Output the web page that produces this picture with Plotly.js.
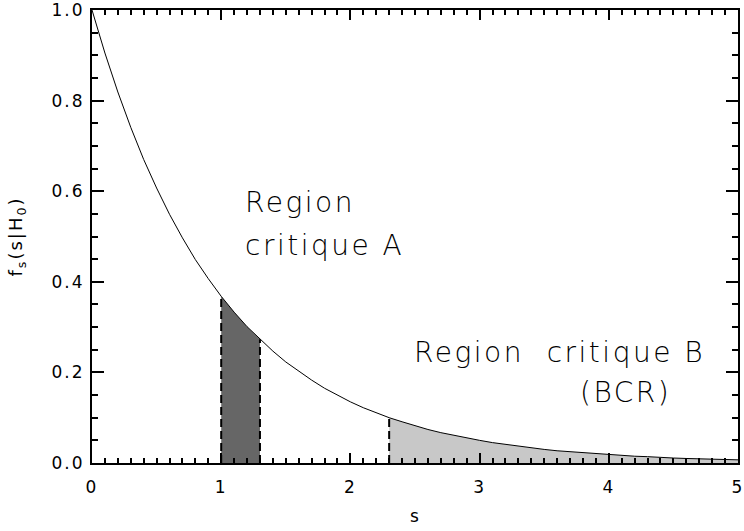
<!DOCTYPE html>
<html>
<head>
<meta charset="utf-8">
<script src="https://cdn.plot.ly/plotly-3.0.1.min.js"></script>
<style>
html,body{margin:0;padding:0;background:#fff;}
#chart{width:744px;height:531px;}
#chart .xtick text, #chart .ytick text {letter-spacing: 2px;}
#chart .annotation-text {letter-spacing: 2.5px;}
#chart .g-xtitle text {letter-spacing: 1px;}
#chart .g-ytitle text {letter-spacing: 2px;}
</style>
</head>
<body>
<div id="chart"></div>
<script>
const sValues = [0.0,0.1,0.2,0.3,0.4,0.5,0.6,0.7,0.8,0.9,
                 1.0,1.1,1.2,1.3,1.4,1.5,1.6,1.7,1.8,1.9,
                 2.0,2.1,2.2,2.3,2.4,2.5,2.6,2.7,2.8,2.9,
                 3.0,3.1,3.2,3.3,3.4,3.5,3.6,3.7,3.8,3.9,
                 4.0,4.1,4.2,4.3,4.4,4.5,4.6,4.7,4.8,4.9,5.0];
const fValues = [1.000,0.905,0.819,0.741,0.670,0.607,0.549,0.497,0.449,0.407,
                 0.368,0.333,0.301,0.273,0.247,0.223,0.202,0.183,0.165,0.150,
                 0.135,0.122,0.111,0.100,0.091,0.082,0.074,0.067,0.061,0.055,
                 0.050,0.045,0.041,0.037,0.033,0.030,0.027,0.025,0.022,0.020,
                 0.018,0.017,0.015,0.014,0.012,0.011,0.010,0.009,0.008,0.007,0.007];
const regionA = [1.0, 1.3];
const regionB = [2.3, 5.0];
const yTickVals = [0.0, 0.2, 0.4, 0.6, 0.8, 1.0];
const yTickText = ["0.0","0.2","0.4","0.6","0.8","1.0"];
const xTickVals = [0, 1, 2, 3, 4, 5];
const xTickText = ["0","1","2","3","4","5"];

function slice(range) {
  const xs = [], ys = [];
  sValues.forEach((s, i) => {
    if (s >= range[0] - 1e-9 && s <= range[1] + 1e-9) { xs.push(s); ys.push(fValues[i]); }
  });
  return {xs, ys};
}
function fAt(s) { return fValues[sValues.findIndex(v => Math.abs(v - s) < 1e-9)]; }

const A = slice(regionA), B = slice(regionB);
const FONT = "DejaVu Sans";
const dashLine = {color: "black", width: 2, dash: "8px,4px"};

const traces = [
  {x: A.xs, y: A.ys, type: "scatter", mode: "lines", fill: "tozeroy",
   fillcolor: "rgb(102,102,102)", line: {width: 0}, hoverinfo: "skip"},
  {x: B.xs, y: B.ys, type: "scatter", mode: "lines", fill: "tozeroy",
   fillcolor: "rgb(200,200,200)", line: {width: 0}, hoverinfo: "skip"},
  {x: [regionA[0], regionA[0]], y: [0, fAt(regionA[0])], type: "scatter", mode: "lines", line: dashLine},
  {x: [regionA[1], regionA[1]], y: [0, fAt(regionA[1])], type: "scatter", mode: "lines", line: dashLine},
  {x: [regionB[0], regionB[0]], y: [0, fAt(regionB[0])], type: "scatter", mode: "lines", line: dashLine},
  {x: sValues, y: fValues, type: "scatter", mode: "lines", line: {color: "black", width: 1}}
];

const tickFont = {family: FONT, size: 17, color: "black"};
const xTitleFont = {family: FONT, size: 17, color: "black"};
const yTitleFont = {family: FONT, size: 18, color: "black"};
const annFont = {family: FONT, size: 28, color: "black", weight: 200};

const layout = {
  width: 744, height: 531,
  margin: {l: 92, r: 6, t: 10, b: 68},
  paper_bgcolor: "white", plot_bgcolor: "white",
  showlegend: false,
  xaxis: {
    range: [0, 5], tickvals: xTickVals, ticktext: xTickText,
    ticks: "inside", ticklen: 10, tickwidth: 2, tickcolor: "black",
    minor: {dtick: 0.1, ticks: "inside", ticklen: 5, tickwidth: 2, tickcolor: "black"},
    showline: true, linecolor: "black", linewidth: 2, mirror: "allticks",
    showgrid: false, zeroline: false, ticklabeloverflow: "allow",
    tickfont: tickFont, ticklabelstandoff: 8,
    title: {text: "s", font: xTitleFont, standoff: 14}
  },
  yaxis: {
    range: [0, 1], tickvals: yTickVals, ticktext: yTickText,
    ticks: "inside", ticklen: 12, tickwidth: 2, tickcolor: "black",
    minor: {dtick: 0.05, ticks: "inside", ticklen: 6, tickwidth: 2, tickcolor: "black"},
    showline: true, linecolor: "black", linewidth: 2, mirror: "allticks",
    showgrid: false, zeroline: false, ticklabeloverflow: "allow",
    tickfont: tickFont, ticklabelstandoff: 2,
    title: {text: "f<sub>s</sub>(s|H<sub>0</sub>)", font: yTitleFont, standoff: 30}
  },
  annotations: [
    {x: 1.17, y: 0.574, xref: "x", yref: "y", text: "Region", showarrow: false,
     xanchor: "left", yanchor: "middle", align: "left", font: annFont},
    {x: 1.17, y: 0.481, xref: "x", yref: "y", text: "critique A", showarrow: false,
     xanchor: "left", yanchor: "middle", align: "left", font: annFont},
    {x: 2.48, y: 0.245, xref: "x", yref: "y", text: "Region  critique B", showarrow: false,
     xanchor: "left", yanchor: "middle", align: "left", font: annFont},
    {x: 3.76, y: 0.155, xref: "x", yref: "y", text: "(BCR)", showarrow: false,
     xanchor: "left", yanchor: "middle", align: "left", font: annFont}
  ]
};

Plotly.newPlot("chart", traces, layout, {staticPlot: true, displayModeBar: false});
</script>
</body>
</html>
